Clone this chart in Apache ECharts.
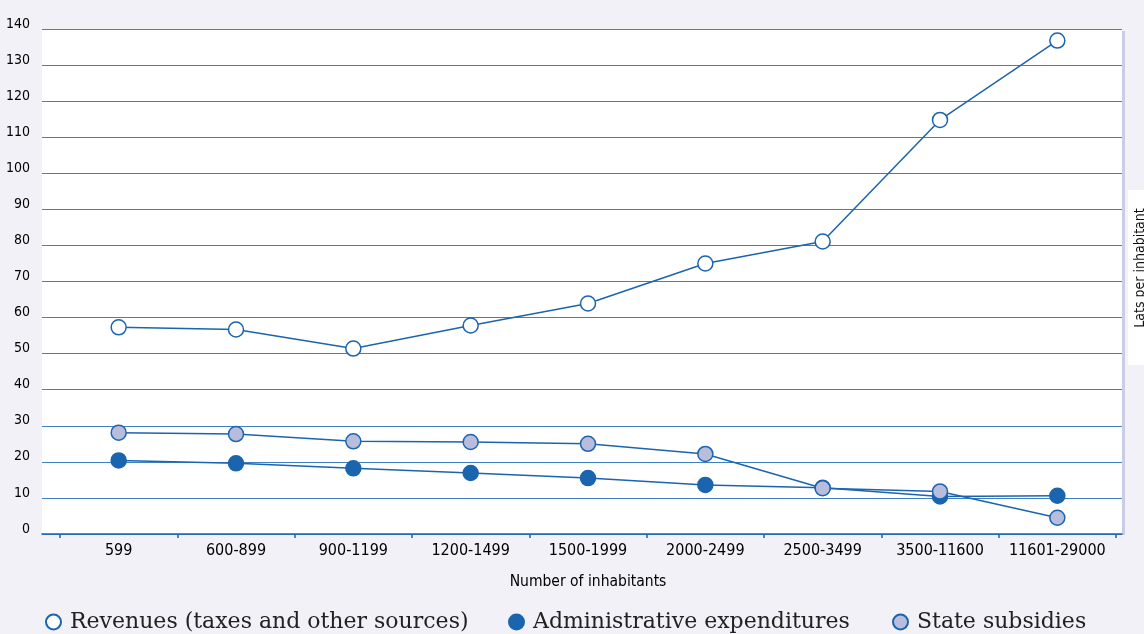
<!DOCTYPE html>
<html>
<head>
<meta charset="utf-8">
<script src="https://cdn.jsdelivr.net/npm/echarts@6/dist/echarts.min.js"></script>
<style>
html, body { margin: 0; padding: 0; background: #f1f1f7; }
#main { width: 1144px; height: 634px; }
</style>
</head>
<body>
<div id="main"></div>
<script>
var categories = ['599', '600-899', '900-1199', '1200-1499', '1500-1999', '2000-2499', '2500-3499', '3500-11600', '11601-29000'];
var revenues = [57.3, 56.7, 51.4, 57.8, 63.9, 75.0, 81.1, 114.8, 136.8];
var adminExp = [20.4, 19.6, 18.2, 16.9, 15.5, 13.6, 12.8, 10.4, 10.6];
var subsidies = [28.1, 27.7, 25.7, 25.5, 25.0, 22.2, 12.7, 11.8, 4.5];
var yTicks = { min: 0, max: 140, step: 10 };

var blue = '#1b64ae';
var narrow = '"Liberation Sans Narrow", "DejaVu Sans Condensed", sans-serif';
var legendFont = { fontFamily: '"DejaVu Serif", serif', fontSize: 22, color: '#222', padding: [0, 0, 0, 4] };

var chart = echarts.init(document.getElementById('main'));

function line(name, data, fill) {
    return {
        name: name,
        type: 'line',
        xAxisIndex: 1,
        yAxisIndex: 1,
        data: data,
        symbol: 'circle',
        symbolSize: 15,
        lineStyle: { color: blue, width: 1.5 },
        itemStyle: { color: fill, borderColor: blue, borderWidth: 1.5 },
        emphasis: { disabled: true }
    };
}

var option = {
    backgroundColor: '#f1f1f7',
    animation: false,
    grid: [
        { left: 42, right: 22, top: 29, bottom: 100, show: true, backgroundColor: '#fff', borderWidth: 0 },
        { left: 60, right: 28, top: 29, bottom: 100 }
    ],
    xAxis: [
        {
            gridIndex: 0, type: 'value', min: 0, max: 1,
            axisLine: { show: true, lineStyle: { color: blue, width: 1.5 } },
            axisTick: { show: false }, axisLabel: { show: false }, splitLine: { show: false }
        },
        {
            gridIndex: 1, type: 'category', data: categories, boundaryGap: true,
            axisLine: { show: false },
            axisTick: { show: true, length: 4, lineStyle: { color: blue, width: 1.5 } },
            axisLabel: { interval: 0, fontFamily: narrow, fontSize: 16, color: '#000', margin: 9 },
            name: 'Number of inhabitants', nameLocation: 'middle', nameGap: 40,
            nameTextStyle: { fontFamily: narrow, fontSize: 15.5, color: '#000' }
        }
    ],
    yAxis: [
        {
            gridIndex: 0, type: 'value', min: yTicks.min, max: yTicks.max, interval: yTicks.step,
            axisLine: { show: false }, axisTick: { show: false },
            axisLabel: { fontFamily: narrow, fontSize: 14, color: '#000', margin: 12, verticalAlign: 'bottom', lineHeight: 10 },
            splitLine: { lineStyle: { color: '#3f80c2', width: 1.2 } }
        },
        {
            gridIndex: 1, type: 'value', min: yTicks.min, max: yTicks.max, show: false
        }
    ],
    legend: [
        { data: ['Revenues (taxes and other sources)'], left: 40, top: 606, icon: 'circle', itemWidth: 15, itemHeight: 15, textStyle: legendFont },
        { data: ['Administrative expenditures'], left: 503, top: 606, icon: 'circle', itemWidth: 15, itemHeight: 15, textStyle: legendFont },
        { data: ['State subsidies'], left: 887, top: 606, icon: 'circle', itemWidth: 15, itemHeight: 15, textStyle: legendFont }
    ],
    graphic: [
        { type: 'rect', shape: { x: 1122, y: 31, width: 3, height: 504 }, style: { fill: '#c9cde6' }, silent: true },
        { type: 'rect', shape: { x: 1128, y: 190, width: 16, height: 175 }, style: { fill: '#ffffff' }, silent: true },
        {
            type: 'text', x: 1140, y: 268, rotation: Math.PI / 2,
            style: { text: 'Lats per inhabitant', fontFamily: narrow, fontSize: 14, fill: '#111', textAlign: 'center', textVerticalAlign: 'middle' },
            silent: true
        }
    ],
    series: [
        line('Revenues (taxes and other sources)', revenues, '#ffffff'),
        line('Administrative expenditures', adminExp, blue),
        line('State subsidies', subsidies, '#b9bddd')
    ]
};

chart.setOption(option);
</script>
</body>
</html>
